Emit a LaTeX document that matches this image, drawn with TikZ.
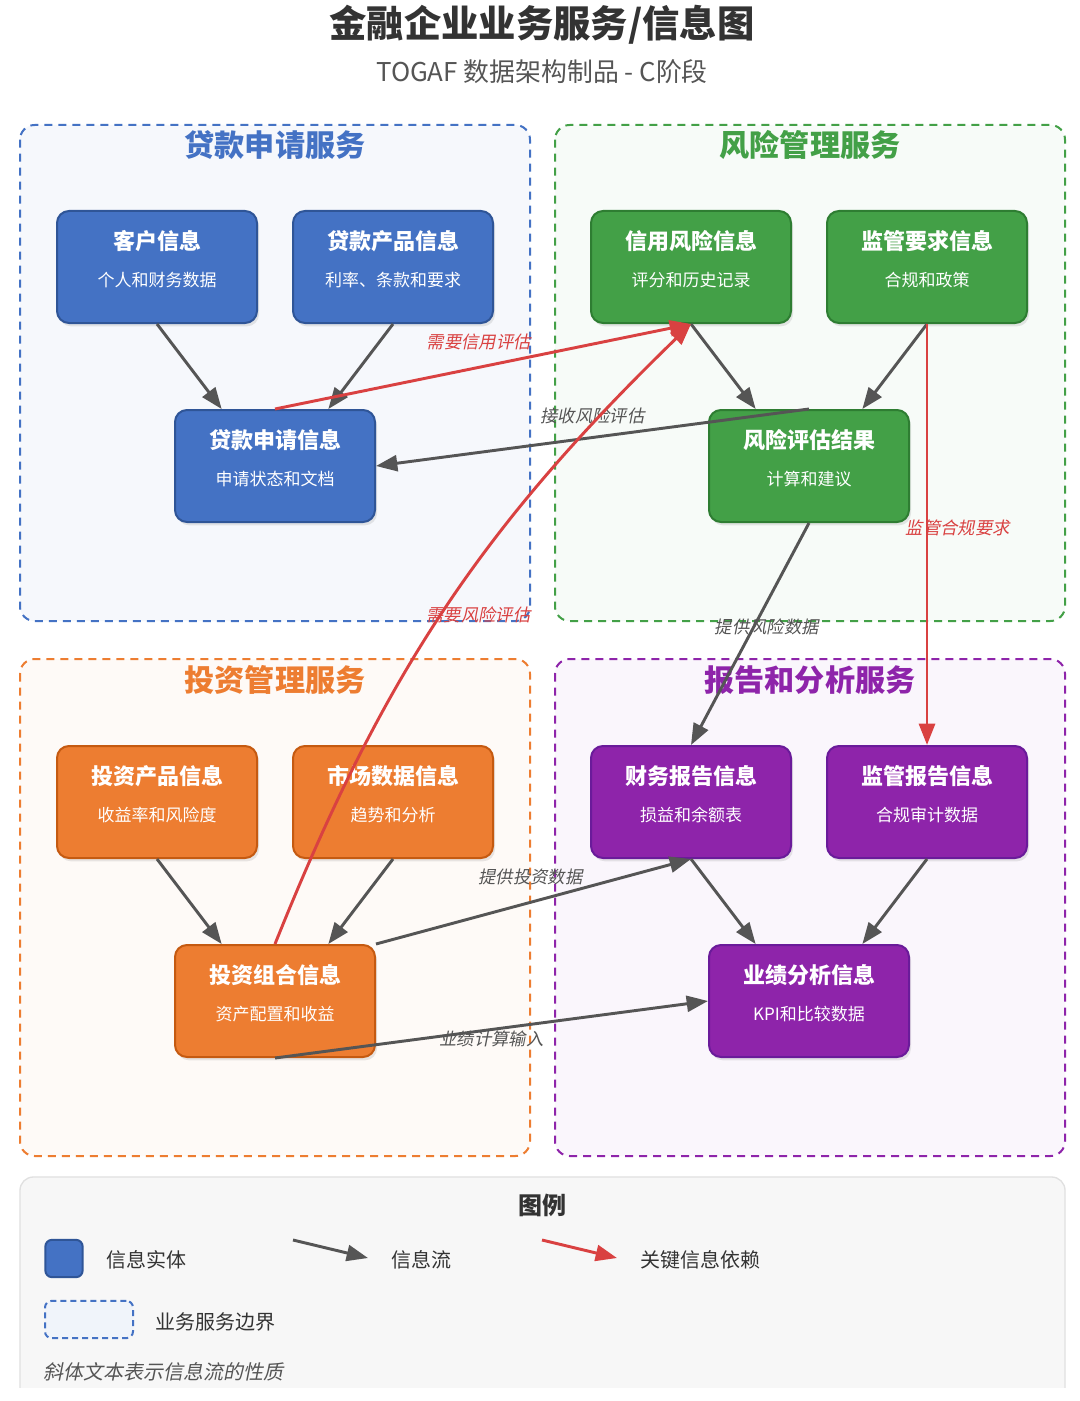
\documentclass[tikz,border=0pt]{standalone}
\usepackage{fontspec}
\setmainfont{Noto Sans CJK SC}
\newfontfamily\slantfont{Noto Sans CJK SC}[FakeSlant=0.2]
\usetikzlibrary{arrows.meta,shadows}

\definecolor{cblue}{HTML}{4472C4}
\definecolor{cblueD}{HTML}{2F5597}
\definecolor{cgreen}{HTML}{43A047}
\definecolor{cgreenD}{HTML}{2E7D32}
\definecolor{corange}{HTML}{ED7D31}
\definecolor{corangeD}{HTML}{C55A11}
\definecolor{cpurple}{HTML}{8E24AA}
\definecolor{cpurpleD}{HTML}{6A1B9A}
\definecolor{cflow}{HTML}{555555}
\definecolor{ckey}{HTML}{D94141}
\definecolor{ctext}{HTML}{333333}

\tikzset{infotext/.style 2 args={
    label={[ttl, yshift=19.5pt]center:#1},
    label={[sub, yshift=-9.75pt]center:#2}}}

\begin{document}
\begin{tikzpicture}[x=0.75pt, y=-0.75pt]

\tikzstyle{info}=[rectangle, rounded corners=9pt, minimum width=150pt, minimum height=84pt, line width=1.5pt,
                  drop shadow={shadow xshift=1.5pt, shadow yshift=-2.5pt, opacity=0.18}]
\tikzstyle{ttl}=[text=white, font=\fontsize{16.5pt}{18pt}\selectfont\bfseries]
\tikzstyle{sub}=[text=white, font=\fontsize{12.75pt}{15pt}\selectfont]
\tikzstyle{grp}=[rounded corners=11pt, line width=1.5pt, dash pattern=on 6pt off 4.5pt]
\tikzstyle{grptitle}=[font=\fontsize{22.6pt}{26pt}\selectfont\bfseries]
\tikzstyle{flow}=[-{Triangle[length=16pt,width=12pt]}, draw=cflow, line width=2.2pt]
\tikzstyle{key}=[-{Triangle[length=16pt,width=12pt]}, draw=ckey, line width=2.2pt]
\tikzstyle{flowlab}=[text=cflow, font=\fontsize{13pt}{15pt}\slantfont]
\tikzstyle{keylab}=[text=ckey, font=\fontsize{13pt}{15pt}\slantfont]
\tikzstyle{legtext}=[anchor=west, text=ctext, font=\fontsize{15pt}{18pt}\selectfont]

\useasboundingbox (0,0) rectangle (1080,1401);
\fill[white] (0,0) rectangle (1080,1401);

% title
\node (title) at (542,25) [text=ctext, font=\fontsize{28pt}{32pt}\selectfont\bfseries] {金融企业业务服务/信息图};
\node (subtitle) at (542,72) [text=cflow, font=\fontsize{19.4pt}{22pt}\selectfont] {TOGAF 数据架构制品 - C阶段};

% service groups
\draw[grp, draw=cblue, fill=cblue!5] (20,125) rectangle (530,621);
\draw[grp, draw=cgreen, fill=cgreen!4] (555,125) rectangle (1065,621);
\draw[grp, draw=corange, fill=corange!4] (20,659) rectangle (530,1156);
\draw[grp, draw=cpurple, fill=cpurple!4] (555,659) rectangle (1065,1156);

\node (gLoan) [grptitle, text=cblue] at (275,145) {贷款申请服务};
\node (gRisk) [grptitle, text=cgreen] at (810,145) {风险管理服务};
\node (gInv) [grptitle, text=corange] at (275,680) {投资管理服务};
\node (gRep) [grptitle, text=cpurple] at (810,680) {报告和分析服务};

% loan
\node (kehu) [info, fill=cblue, draw=cblueD, infotext={客户信息}{个人和财务数据}] at (157,267) {};
\node (chanpin) [info, fill=cblue, draw=cblueD, infotext={贷款产品信息}{利率、条款和要求}] at (393,267) {};
\node (shenqing) [info, fill=cblue, draw=cblueD, infotext={贷款申请信息}{申请状态和文档}] at (275,466) {};

% risk
\node (xinyong) [info, fill=cgreen, draw=cgreenD, infotext={信用风险信息}{评分和历史记录}] at (691,267) {};
\node (jianguan) [info, fill=cgreen, draw=cgreenD, infotext={监管要求信息}{合规和政策}] at (927,267) {};
\node (pinggu) [info, fill=cgreen, draw=cgreenD, infotext={风险评估结果}{计算和建议}] at (809,466) {};

% investment
\node (tzchanpin) [info, fill=corange, draw=corangeD, infotext={投资产品信息}{收益率和风险度}] at (157,802) {};
\node (shichang) [info, fill=corange, draw=corangeD, infotext={市场数据信息}{趋势和分析}] at (393,802) {};
\node (zuhe) [info, fill=corange, draw=corangeD, infotext={投资组合信息}{资产配置和收益}] at (275,1001) {};

% reporting
\node (caiwu) [info, fill=cpurple, draw=cpurpleD, infotext={财务报告信息}{损益和余额表}] at (691,802) {};
\node (jgbaogao) [info, fill=cpurple, draw=cpurpleD, infotext={监管报告信息}{合规审计数据}] at (927,802) {};
\node (yeji) [info, fill=cpurple, draw=cpurpleD, infotext={业绩分析信息}{KPI和比较数据}] at (809,1001) {};

% flows inside the groups
\draw[flow] (kehu.south) -- ([xshift=-40pt]shenqing.north);
\draw[flow] (chanpin.south) -- ([xshift=40pt]shenqing.north);
\draw[flow] (xinyong.south) -- ([xshift=-40pt]pinggu.north);
\draw[flow] (jianguan.south) -- ([xshift=40pt]pinggu.north);
\draw[flow] (tzchanpin.south) -- ([xshift=-40pt]zuhe.north);
\draw[flow] (shichang.south) -- ([xshift=40pt]zuhe.north);
\draw[flow] (caiwu.south) -- ([xshift=-40pt]yeji.north);
\draw[flow] (jgbaogao.south) -- ([xshift=40pt]yeji.north);

% flows between the groups
\draw[key] (shenqing.north) -- node[keylab, pos=0.49, yshift=19pt] {需要信用评估} (xinyong.south);
\draw[flow] (pinggu.north) -- node[flowlab, pos=0.5, yshift=16pt] {接收风险评估} (shenqing.east);
\draw[key] (jianguan.south) -- node[keylab, pos=0.485, xshift=23pt] {监管合规要求} (jgbaogao.north);
\draw[key] (zuhe.north) to[bend left=12] node[keylab, pos=0.5, xshift=25pt, yshift=-4.5pt] {需要风险评估} (xinyong.south);
\draw[flow] (pinggu.south) -- node[flowlab, pos=0.47, xshift=10pt] {提供风险数据} (caiwu.north);
\draw[flow] (zuhe.north east) -- node[flowlab, pos=0.49, yshift=19pt] {提供投资数据} (caiwu.south);
\draw[flow] (zuhe.south) -- node[flowlab, pos=0.5, yshift=-7pt] {业绩计算输入} (yeji.west);

% legend
\begin{scope}
\clip (0,0) rectangle (1080,1387);
\draw[rounded corners=10pt, draw=black!12, fill=black!3, line width=1pt] (20,1177) rectangle (1065,1430);
\end{scope}
\node (lgtitle) at (542,1205) [text=ctext, font=\fontsize{18pt}{22pt}\selectfont\bfseries] {图例};

\node (lgent) [rectangle, rounded corners=5pt, minimum width=28pt, minimum height=28pt, line width=1.5pt,
               fill=cblue, draw=cblueD] at (64,1258.5) {};
\node (lgentt) [legtext] at (102,1260) {信息实体};

\coordinate (lgf1) at (293,1240);
\coordinate (lgf2) at (368,1258);
\draw[flow] (lgf1) -- (lgf2);
\node (lgflow) [legtext] at (387,1260) {信息流};

\coordinate (lgk1) at (542,1240);
\coordinate (lgk2) at (617,1258);
\draw[key] (lgk1) -- (lgk2);
\node (lgkey) [legtext] at (636,1260) {关键信息依赖};

\node (lgbd) [rectangle, rounded corners=5pt, minimum width=66pt, minimum height=28pt, line width=1.5pt,
              dash pattern=on 4.5pt off 3pt, draw=cblue, fill=cblue!8] at (89,1319.5) {};
\node (lgbdt) [legtext] at (151,1322) {业务服务边界};

\node (lgnote) [legtext, text=cflow, font=\fontsize{15pt}{18pt}\slantfont] at (39,1372) {斜体文本表示信息流的性质};

\end{tikzpicture}
\end{document}
